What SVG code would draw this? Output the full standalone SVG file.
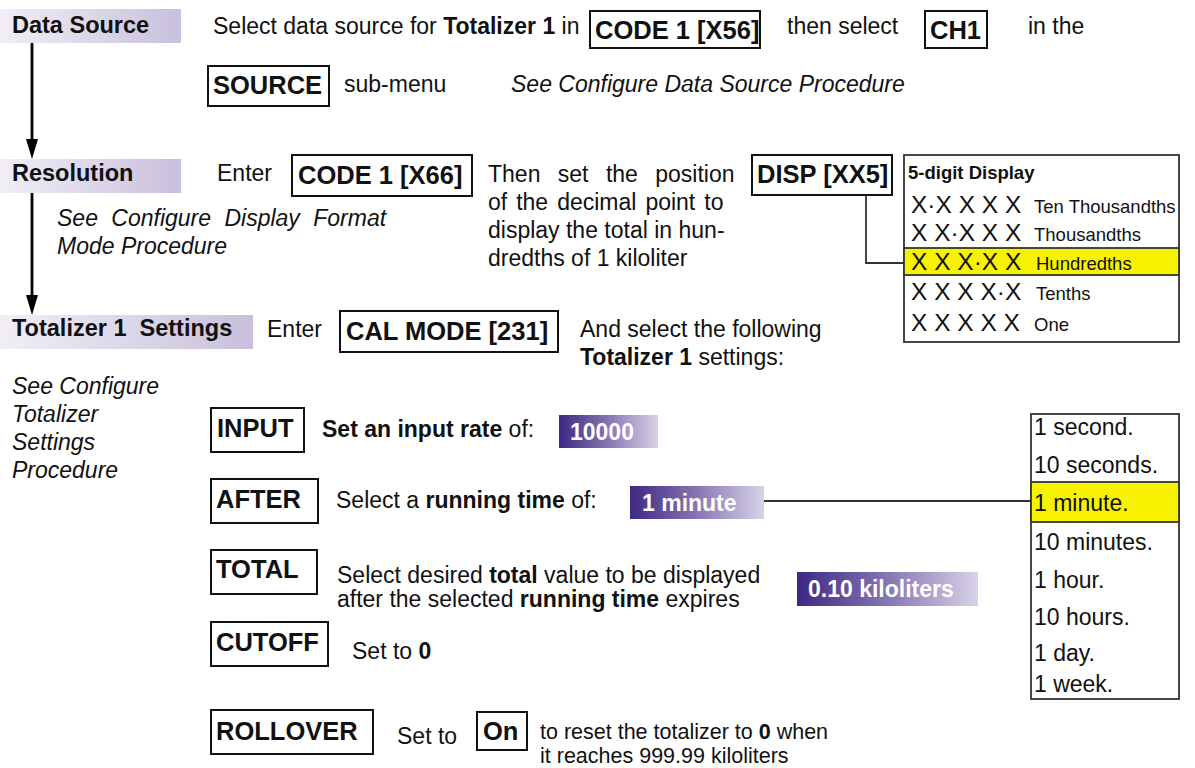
<svg xmlns="http://www.w3.org/2000/svg" width="1195" height="768" viewBox="0 0 1195 768">
  <defs>
    <linearGradient id="hdrGrad" x1="0" y1="0" x2="1" y2="0">
      <stop offset="0" stop-color="#f1eef6"/>
      <stop offset="1" stop-color="#c8c0dc"/>
    </linearGradient>
    <linearGradient id="valGrad" x1="0" y1="0" x2="1" y2="0">
      <stop offset="0" stop-color="#3e2884"/>
      <stop offset="0.5" stop-color="#8676b2"/>
      <stop offset="1" stop-color="#d8d2e8"/>
    </linearGradient>
  </defs>
  <style>
    text { font-family: "Liberation Sans", Arial, Helvetica, sans-serif; fill: #111; }
    .t { font-size: 23px; }
    .sm { font-size: 21.5px; }
    .b { font-weight: bold; }
    .i { font-style: italic; }
    .hdr rect { fill: url(#hdrGrad); }
    .hdr text { font-size: 23.5px; font-weight: bold; }
    .key rect { fill: #fff; stroke: #111; stroke-width: 2; }
    .key text { font-size: 25.5px; font-weight: bold; }
    .val rect { fill: url(#valGrad); }
    .val text { font-size: 23px; font-weight: bold; fill: #fff; }
    .panel { fill: #fff; stroke: #333; stroke-width: 1.8; }
    .hl { fill: #f7f200; stroke: #333; stroke-width: 1.8; }
    .xs { font-size: 24.5px; }
    .lbl { font-size: 18.5px; }
    .item { font-size: 23px; }
    .link { fill: none; stroke: #333; stroke-width: 1.8; }
    .flow { fill: none; stroke: #000; stroke-width: 2.8; }
    .head { fill: #000; }
  </style>

  <!-- flow arrows between steps, plus the two lead lines -->
  <g id="connectors">
    <line class="flow" x1="32" y1="43" x2="32" y2="142"/>
    <polygon class="head" points="26,139 38,139 32,159"/>
    <line class="flow" x1="32" y1="193" x2="32" y2="298"/>
    <polygon class="head" points="26,295 38,295 32,315"/>
    <polyline class="link" points="866,195 866,263 904,263"/>
    <line class="link" x1="764" y1="501" x2="1031" y2="501"/>
  </g>

  <!-- step 1: data source -->
  <g id="step-data-source" class="hdr">
    <rect x="0" y="9" width="181" height="34"/>
    <text x="12" y="33">Data Source</text>
  </g>
  <text class="t" x="213" y="34">Select data source for <tspan class="b">Totalizer 1</tspan> in</text>
  <g id="key-code-x56" class="key">
    <rect x="590" y="11" width="170" height="37"/>
    <text x="595" y="39">CODE 1 [X56]</text>
  </g>
  <text class="t" x="787" y="34">then select</text>
  <g id="key-ch1" class="key">
    <rect x="925" y="11" width="62" height="37"/>
    <text x="930" y="39">CH1</text>
  </g>
  <text class="t" x="1028" y="34">in the</text>
  <g id="key-source" class="key">
    <rect x="208" y="66" width="121" height="40"/>
    <text x="213" y="94">SOURCE</text>
  </g>
  <text class="t" x="344" y="92">sub-menu</text>
  <text class="t i" x="511" y="92">See Configure Data Source Procedure</text>

  <!-- step 2: resolution -->
  <g id="step-resolution" class="hdr">
    <rect x="0" y="159" width="181" height="34"/>
    <text x="12" y="181">Resolution</text>
  </g>
  <text class="t" x="217" y="181">Enter</text>
  <g id="key-code-x66" class="key">
    <rect x="292" y="155" width="180" height="41"/>
    <text x="298" y="184">CODE 1 [X66]</text>
  </g>
  <text class="t" x="488" y="182" word-spacing="11">Then set the position</text>
  <text class="t" x="488" y="210" word-spacing="2.6">of the decimal point to</text>
  <text class="t" x="488" y="238">display the total in hun-</text>
  <text class="t" x="488" y="266">dredths of 1 kiloliter</text>
  <text class="t i" x="57" y="226" word-spacing="7">See Configure Display Format</text>
  <text class="t i" x="57" y="254">Mode Procedure</text>
  <g id="key-disp" class="key">
    <rect x="752" y="155" width="140" height="40"/>
    <text x="757" y="183">DISP [XX5]</text>
  </g>

  <!-- 5-digit display format table -->
  <g id="display-table">
    <rect class="panel" x="904" y="155" width="275" height="187"/>
    <rect class="hl" x="904" y="248" width="275" height="27"/>
    <text class="b" x="908" y="179" font-size="18.5">5-digit Display</text>
    <text class="xs" x="911" y="213">X·X X X X</text>
    <text class="lbl" x="1034" y="213">Ten Thousandths</text>
    <text class="xs" x="911" y="241">X X·X X X</text>
    <text class="lbl" x="1034" y="241">Thousandths</text>
    <text class="xs" x="911" y="270">X X X·X X</text>
    <text class="lbl" x="1036" y="270">Hundredths</text>
    <text class="xs" x="911" y="300">X X X X·X</text>
    <text class="lbl" x="1036" y="300">Tenths</text>
    <text class="xs" x="911" y="331">X X X X X</text>
    <text class="lbl" x="1034" y="331">One</text>
  </g>

  <!-- step 3: totalizer settings -->
  <g id="step-totalizer" class="hdr">
    <rect x="0" y="315" width="253" height="34"/>
    <text x="12" y="336" xml:space="preserve">Totalizer 1  Settings</text>
  </g>
  <text class="t" x="267" y="337">Enter</text>
  <g id="key-cal-mode" class="key">
    <rect x="340" y="311" width="218" height="41"/>
    <text x="346" y="340">CAL MODE [231]</text>
  </g>
  <text class="t" x="580" y="337">And select the following</text>
  <text class="t" x="580" y="365"><tspan class="b">Totalizer 1</tspan> settings:</text>
  <text class="t i" x="12" y="394">See Configure</text>
  <text class="t i" x="12" y="422">Totalizer</text>
  <text class="t i" x="12" y="450">Settings</text>
  <text class="t i" x="12" y="478">Procedure</text>

  <!-- INPUT -->
  <g id="key-input" class="key">
    <rect x="211" y="408" width="93" height="44"/>
    <text x="217" y="437">INPUT</text>
  </g>
  <text class="t" x="322" y="437"><tspan class="b">Set an input rate</tspan> of:</text>
  <g id="val-input" class="val">
    <rect x="559" y="415" width="99" height="33"/>
    <text x="570" y="440">10000</text>
  </g>

  <!-- AFTER -->
  <g id="key-after" class="key">
    <rect x="211" y="479" width="107" height="44"/>
    <text x="216" y="508">AFTER</text>
  </g>
  <text class="t" x="336" y="508">Select a <tspan class="b">running time</tspan> of:</text>
  <g id="val-after" class="val">
    <rect x="630" y="486" width="134" height="33"/>
    <text x="642" y="511">1 minute</text>
  </g>

  <!-- running time choices -->
  <g id="time-list">
    <rect class="panel" x="1031" y="414" width="148" height="285"/>
    <rect class="hl" x="1031" y="482" width="148" height="40"/>
    <text class="item" x="1034" y="435">1 second.</text>
    <text class="item" x="1034" y="473">10 seconds.</text>
    <text class="item" x="1034" y="511">1 minute.</text>
    <text class="item" x="1034" y="550">10 minutes.</text>
    <text class="item" x="1034" y="588">1 hour.</text>
    <text class="item" x="1034" y="625">10 hours.</text>
    <text class="item" x="1034" y="661">1 day.</text>
    <text class="item" x="1034" y="692">1 week.</text>
  </g>

  <!-- TOTAL -->
  <g id="key-total" class="key">
    <rect x="211" y="550" width="106" height="44"/>
    <text x="216" y="578">TOTAL</text>
  </g>
  <text class="t" x="337" y="583">Select desired <tspan class="b">total</tspan> value to be displayed</text>
  <text class="t" x="337" y="607">after the selected <tspan class="b">running time</tspan> expires</text>
  <g id="val-total" class="val">
    <rect x="797" y="572" width="181" height="34"/>
    <text x="808" y="597">0.10 kiloliters</text>
  </g>

  <!-- CUTOFF -->
  <g id="key-cutoff" class="key">
    <rect x="211" y="622" width="117" height="44"/>
    <text x="216" y="651">CUTOFF</text>
  </g>
  <text class="t" x="352" y="659">Set to <tspan class="b">0</tspan></text>

  <!-- ROLLOVER -->
  <g id="key-rollover" class="key">
    <rect x="211" y="710" width="162" height="44"/>
    <text x="216" y="740">ROLLOVER</text>
  </g>
  <text class="t" x="397" y="744">Set to</text>
  <g id="key-on" class="key">
    <rect x="477" y="712" width="50" height="38"/>
    <text x="483" y="740">On</text>
  </g>
  <text class="sm" x="540" y="739">to reset the totalizer to <tspan class="b">0</tspan> when</text>
  <text class="sm" x="540" y="763">it reaches 999.99 kiloliters</text>
</svg>
